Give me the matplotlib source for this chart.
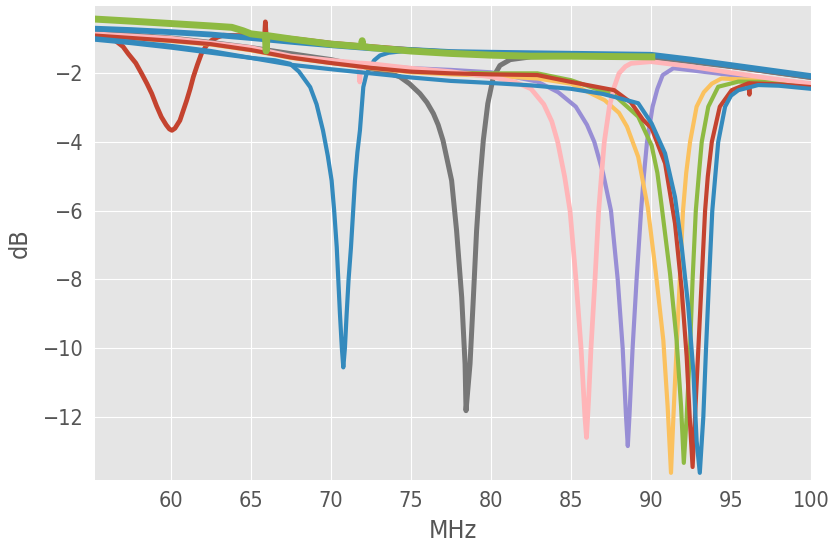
import matplotlib
matplotlib.use("Agg")
import matplotlib.pyplot as plt

plt.style.use("ggplot")
plt.rcParams['font.family'] = ['DejaVu Sans']
plt.rcParams['font.stretch'] = 'condensed'

# ---- data (frequency in MHz, level in dB) ----
red1_f = [55.25, 55.8, 56.5, 57.0, 57.33, 57.8, 58.17, 58.5, 58.8, 59.1, 59.4, 59.7, 59.9,
          60.06, 60.25, 60.56, 60.98, 61.2, 61.4, 61.65, 61.9, 62.2, 62.54, 62.9, 63.27,
          64.2, 65.0, 65.85, 65.9, 65.95, 67.5, 70, 72.5, 75, 77.5, 80, 85, 90, 95, 100]
red1_db = [-0.77, -0.88, -1.04, -1.22, -1.43, -1.7, -2.01, -2.3, -2.59, -2.95, -3.27, -3.5, -3.62,
           -3.66, -3.6, -3.37, -2.79, -2.45, -2.1, -1.75, -1.43, -1.2, -1.04, -0.95, -0.89,
           -0.9, -0.88, -0.92, -0.5, -0.92, -0.98, -1.12, -1.22, -1.31, -1.38, -1.43, -1.46, -1.47, -1.8, -2.12]

blue1_f = [55.25, 57.5, 60, 62.5, 65, 66.5, 67.44, 68.0, 68.7, 69.1, 69.5, 69.8, 70.04, 70.2,
           70.36, 70.56, 70.68, 70.77, 70.87, 70.98, 71.1, 71.25, 71.5, 71.65, 71.81, 72.02,
           72.2, 72.44, 72.7, 73.06, 73.6, 75]
blue1_db = [-1.02, -1.12, -1.25, -1.4, -1.55, -1.62, -1.72, -1.95, -2.4, -2.9, -3.66, -4.4, -5.12, -6.0,
            -7.06, -9.0, -10.0, -10.56, -10.0, -9.0, -8.0, -7.06, -5.12, -4.3, -3.66, -2.4,
            -2.05, -1.82, -1.62, -1.48, -1.4, -1.33]

purple_f = [55.25, 57.5, 60, 62.5, 65, 67.5, 70, 72.5, 75, 77.5, 80, 82.9, 84.2, 85.3, 86.0,
            86.46, 87.0, 87.5, 87.92, 88.23, 88.44, 88.55, 88.65, 88.85, 89.1, 89.38, 89.55,
            89.75, 90.1, 90.4, 90.73, 91.4, 92.3, 95, 97.5, 100]
purple_db = [-0.88, -0.95, -1.02, -1.12, -1.3, -1.5, -1.65, -1.77, -1.85, -1.9, -1.97, -2.24, -2.55, -2.97, -3.5,
             -4.0, -4.9, -6.0, -8.0, -10.0, -12.0, -12.85, -12.0, -10.0, -8.0, -6.0, -5.0,
             -4.0, -2.97, -2.45, -2.05, -1.85, -1.9, -2.05, -2.18, -2.3]

gray_f = [55.25, 57.5, 60, 62.5, 65, 67.4, 70, 72.2, 73.7, 74.3, 74.9, 75.56, 76.0, 76.4, 76.7,
          77.0, 77.54, 77.85, 78.17, 78.38, 78.44, 78.69, 78.9, 79.1, 79.31, 79.52, 79.8,
          80.15, 80.56, 81.2, 82.5, 85, 90, 95, 100]
gray_db = [-0.82, -0.88, -0.97, -1.1, -1.25, -1.42, -1.6, -1.82, -2.01, -2.1, -2.3, -2.59, -2.85, -3.17, -3.5,
           -3.95, -5.12, -6.58, -8.52, -10.46, -11.82, -10.46, -8.52, -6.58, -5.12, -3.95, -2.88,
           -2.1, -1.77, -1.6, -1.52, -1.5, -1.53, -1.8, -2.12]

yellow_f = [55.25, 57.5, 60, 62.5, 65, 67.5, 70, 72.5, 75, 77.5, 80, 82.9, 85, 87.1, 88.0, 88.5,
            89.2, 89.8, 90.3, 90.77, 91.04, 91.25, 91.4, 91.6, 91.8, 92.0, 92.2, 92.44, 92.85,
            93.3, 93.8, 94.4, 97, 100]
yellow_db = [-0.9, -0.98, -1.06, -1.16, -1.33, -1.55, -1.7, -1.85, -1.97, -2.03, -2.07, -2.15, -2.3, -2.78, -3.15, -3.55,
             -4.43, -5.9, -7.8, -9.77, -11.7, -13.63, -12.0, -10.0, -8.0, -6.0, -4.9, -4.0, -2.97,
             -2.55, -2.3, -2.15, -2.2, -2.38]

green_f = [55.25, 57.5, 60, 62.5, 65, 67.5, 70, 72.5, 75, 77.5, 80, 82.9, 85, 87.7, 89.2,
           90.04, 90.4, 90.67, 91.19, 91.6, 91.88, 92.05, 92.23, 92.44, 92.6, 92.8, 93.0,
           93.17, 93.58, 94.2, 95.46, 97.5, 100]
green_db = [-0.87, -0.95, -1.03, -1.13, -1.3, -1.52, -1.68, -1.82, -1.93, -1.98, -2.0, -2.0, -2.2, -2.63, -3.26,
            -4.1, -4.9, -5.88, -7.83, -9.77, -11.7, -13.34, -12.0, -10.0, -8.0, -6.0, -4.9,
            -4.0, -2.97, -2.39, -2.24, -2.25, -2.35]

pink_f = [55.25, 60, 65, 67.5, 70, 71.75, 71.8, 71.85, 72.5, 75, 77.5, 80, 81.5, 82.5, 83.3, 83.8,
          84.17, 84.6, 84.94, 85.31, 85.63, 85.87, 85.97, 86.1, 86.25, 86.5, 86.73, 86.9,
          87.08, 87.4, 87.7, 88.0, 88.4, 88.75, 90, 92.5, 95, 97.5, 100]
pink_db = [-0.85, -0.98, -1.25, -1.5, -1.62, -1.7, -2.25, -1.7, -1.72, -1.85, -1.95, -2.1, -2.25, -2.45, -2.9, -3.4,
           -4.0, -5.0, -6.0, -8.0, -10.0, -12.0, -12.6, -11.5, -10.0, -8.0, -6.0, -5.0,
           -4.0, -2.97, -2.4, -2.0, -1.8, -1.71, -1.66, -1.8, -1.98, -2.15, -2.3]

red2_f = [55.25, 57.5, 60, 62.5, 65, 67.5, 70, 72.5, 75, 77.5, 80, 82.9, 85, 87.7, 88.75,
          89.5, 90.04, 90.88, 91.5, 91.92, 92.23, 92.44, 92.6, 92.75, 92.96, 93.17, 93.38,
          93.55, 93.8, 94.3, 95.04, 96.08, 96.15, 96.2, 98, 100]
red2_db = [-0.9, -0.97, -1.05, -1.15, -1.32, -1.54, -1.7, -1.84, -1.95, -2.0, -2.03, -2.05, -2.25, -2.49, -2.85,
           -3.35, -3.6, -4.62, -6.37, -8.3, -10.25, -12.2, -13.46, -12.0, -10.0, -8.0, -6.0,
           -5.0, -4.0, -2.97, -2.49, -2.29, -2.62, -2.29, -2.32, -2.4]

blue2_f = [55.25, 57.5, 60, 62.5, 65, 67.5, 70, 72.5, 75, 77.5, 80, 82.5, 85, 87, 88, 89.2,
           90.04, 90.88, 91.5, 91.92, 92.33, 92.65, 92.85, 93.05, 93.27, 93.44, 93.63, 93.83,
           94.2, 94.63, 95.0, 95.46, 96.7, 98, 100]
blue2_db = [-0.98, -1.08, -1.2, -1.35, -1.55, -1.75, -1.88, -2.0, -2.12, -2.22, -2.28, -2.35, -2.45, -2.6, -2.72, -2.87,
            -3.46, -4.33, -5.6, -7.05, -8.8, -10.7, -12.7, -13.63, -12.0, -10.0, -8.0, -6.0,
            -4.0, -2.97, -2.65, -2.49, -2.34, -2.36, -2.45]

bluetop_f = [55.25, 57.5, 60, 62.5, 65, 67.5, 70, 72.5, 75, 77.5, 80, 85, 90, 92.5, 95, 97.5, 100]
bluetop_db = [-0.7, -0.74, -0.8, -0.87, -0.97, -1.08, -1.18, -1.27, -1.32, -1.38, -1.4, -1.43, -1.46,
              -1.6, -1.76, -1.92, -2.08]

greentop_f = [55.25, 57.5, 60, 62.5, 63.8, 64.5, 65.0, 65.9, 65.95, 66.0, 67.5, 70, 71.9, 71.95,
              72.0, 72.5, 75, 77.5, 80, 82.5, 85, 87.5, 90.05]
greentop_db = [-0.42, -0.48, -0.55, -0.62, -0.66, -0.76, -0.85, -0.9, -1.35, -0.9, -1.0, -1.15, -1.22, -1.05,
               -1.22, -1.25, -1.35, -1.42, -1.47, -1.5, -1.5, -1.51, -1.52]

x_ticks = [60, 65, 70, 75, 80, 85, 90, 95, 100]
y_ticks = [-12, -10, -8, -6, -4, -2]

C_RED, C_BLUE, C_PURPLE, C_GRAY = '#C4432F', '#348ABD', '#988ED5', '#777777'
C_YELLOW, C_GREEN, C_PINK = '#FBC15E', '#8EBA42', '#FFB5B8'

fig = plt.figure(figsize=(8.33, 5.48), dpi=100)
ax = fig.add_axes([0.114, 0.124, 0.8596, 0.865])

lw = 3.0
ax.plot(red1_f, red1_db, color=C_RED, lw=3.4)
ax.plot(blue1_f, blue1_db, color=C_BLUE, lw=lw)
ax.plot(purple_f, purple_db, color=C_PURPLE, lw=lw)
ax.plot(gray_f, gray_db, color=C_GRAY, lw=3.6)
ax.plot(yellow_f, yellow_db, color=C_YELLOW, lw=lw)
ax.plot(green_f, green_db, color=C_GREEN, lw=lw)
ax.plot(pink_f, pink_db, color=C_PINK, lw=3.4)
ax.plot(red2_f, red2_db, color=C_RED, lw=lw)
ax.plot(blue2_f, blue2_db, color=C_BLUE, lw=lw)
ax.plot(bluetop_f, bluetop_db, color=C_BLUE, lw=4.2)
ax.plot(greentop_f, greentop_db, color=C_GREEN, lw=5.0)

ax.set_xlim(55.25, 100)
ax.set_ylim(-13.84, -0.04)
ax.set_xticks(x_ticks)
ax.set_yticks(y_ticks)
ax.set_xticklabels([str(v) for v in x_ticks])
ax.set_yticklabels(['\u2212' + str(-v) for v in y_ticks])
ax.tick_params(axis='both', length=0, labelsize=15.5, colors='#555555', pad=8)
ax.set_xlabel('MHz', fontsize=18, color='#555555', labelpad=6)
ax.set_ylabel('dB', fontsize=18, color='#555555', labelpad=8)
for s in ax.spines.values():
    s.set_visible(False)

fig.savefig('out.png', dpi=100)
